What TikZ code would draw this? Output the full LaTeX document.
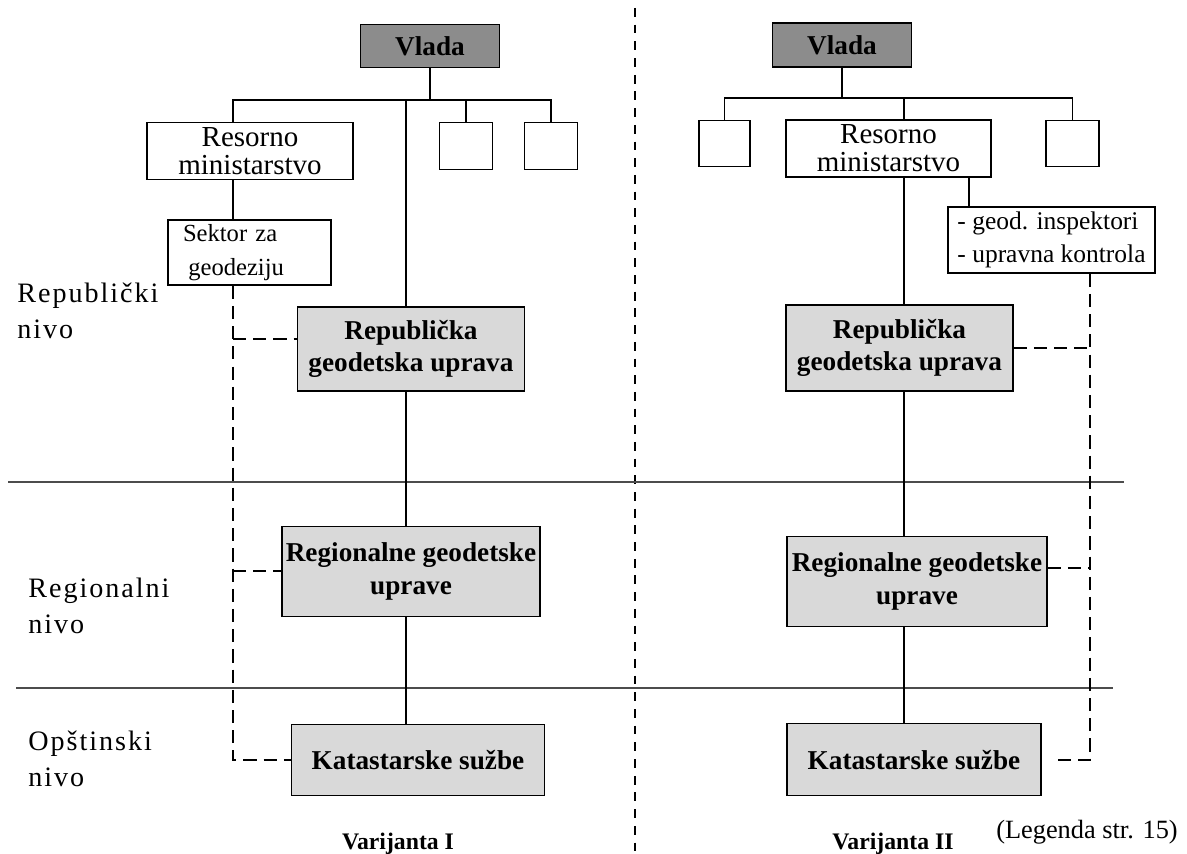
\documentclass[tikz,border=0pt]{standalone}
\usepackage{fontspec}
\setmainfont{Liberation Serif}
\usepackage{tikz}
\usetikzlibrary{positioning}
\tikzstyle{box}      = [rectangle, draw=black, line width=0.8pt, fill=white,
                        inner sep=0pt, align=center,
                        font=\fontsize{16.5}{16}\selectfont]
\tikzstyle{govbox}   = [box, fill=black!45, font=\fontsize{15.5}{17}\selectfont\bfseries]
\tikzstyle{geobox}   = [box, fill=black!15, font=\fontsize{15.5}{18.5}\selectfont\bfseries]
\tikzstyle{emptybox} = [box, minimum width=1.06cm, minimum height=0.93cm]
\tikzstyle{smallbox} = [box, align=left, font=\fontsize{14}{18}\selectfont]
\tikzstyle{link}     = [line width=0.8pt]
\tikzstyle{dashlink} = [line width=1pt, dash pattern=on 7.5pt off 4pt]
\tikzstyle{rule}     = [line width=1.6pt, draw=black!70]
\tikzstyle{divider}  = [line width=0.6pt, dash pattern=on 5pt off 4.5pt]
\tikzstyle{level}    = [align=left, inner sep=0pt, anchor=north west,
                        font=\fontsize{16}{20.5}\selectfont\addfontfeatures{LetterSpace=7}]
\tikzstyle{caption}  = [anchor=base, inner sep=0pt, font=\fontsize{13.5}{15}\selectfont\bfseries]

\begin{document}
\begin{tikzpicture}[x=0.02cm, y=-0.02cm]
  \useasboundingbox (0,0) rectangle (1187,854);

  % divider and level rules
  \draw[divider] (635,8) -- (635,854);
  \draw[rule] (8,482) -- (1124,482);
  \draw[rule] (16,688) -- (1113,688);

  \node[level] (repLvl) at (17,283) {Republički\\nivo};
  \node[level] (regLvl) at (28,578) {Regionalni\\nivo};
  \node[level] (opsLvl) at (28,731) {Opštinski\\nivo};

  % Varijanta I
  \coordinate (jL) at (430,100);
  \coordinate (tL) at (406,100);
  \coordinate (dL) at (233,100);
  \node[govbox, minimum width=2.78cm, minimum height=0.86cm] (vladaL) at (430,46) {Vlada};
  \node[box, minimum width=4.12cm, minimum height=1.14cm] (resL) at (250,151) {Resorno\\ministarstvo};
  \node[emptybox] (emptyL1) at (466,146) {};
  \node[emptybox] (emptyL2) at (551,146) {};
  \node[smallbox, text width=2.66cm, inner xsep=0.3cm, minimum height=1.3cm,
        font=\fontsize{14}{19}\selectfont] (sekL) at (249.5,252.5) {Sektor za\\\hspace*{3pt}geodeziju};
  \node[geobox, minimum width=4.54cm, minimum height=1.68cm] (repL) at (411,349)
        {Republička\\geodetska uprava};
  \node[geobox, below=2.68cm of repL, minimum width=5.16cm, minimum height=1.8cm] (regL)
        {Regionalne geodetske\\uprave};
  \node[geobox, below=2.14cm of regL, xshift=0.14cm, minimum width=5.06cm, minimum height=1.42cm] (katL)
        {Katastarske sužbe};

  \draw[link] (vladaL) -- (jL);
  \draw[link] (resL.north -| dL) |- (jL) -| (emptyL2.north);
  \draw[link] (emptyL1.north) -- (emptyL1.north |- jL);
  \draw[link] (tL) -- (tL |- repL.north);
  \draw[link] (resL.south -| dL) -- (sekL.north -| dL);
  \draw[link] (repL.south -| tL) -- (regL.north -| tL);
  \draw[link] (regL.south -| tL) -- (katL.north -| tL);
  \draw[dashlink] (sekL.south -| dL) |- (katL.west);
  \draw[dashlink] (repL.175 -| dL) -- (repL.175);
  \draw[dashlink] (regL.west -| dL) -- (regL.west);

  % Varijanta II
  \coordinate (jR) at (842,98);
  \coordinate (tR) at (904,98);
  \coordinate (mR) at (969,98);
  \coordinate (dR) at (1090,98);
  \node[govbox, minimum width=2.78cm, minimum height=0.88cm] (vladaR) at (842,45) {Vlada};
  \node[emptybox, minimum width=1.02cm] (emptyR1) at (724.5,143.5) {};
  \node[box, minimum width=4.1cm, minimum height=1.14cm] (resR) at (888.5,148.5) {Resorno\\ministarstvo};
  \node[emptybox] (emptyR2) at (1072.5,143.5) {};
  \node[smallbox, minimum width=4.14cm, minimum height=1.32cm,
        font=\fontsize{14.5}{19}\selectfont] (inspR) at (1051.5,240)
        {- geod. inspektori\\- upravna kontrola};
  \node[geobox, minimum width=4.54cm, minimum height=1.72cm] (repR) at (899.5,348)
        {Republička\\geodetska uprava};
  \node[geobox, below=2.88cm of repR, xshift=0.35cm, minimum width=5.2cm, minimum height=1.8cm] (regR)
        {Regionalne geodetske\\uprave};
  \node[geobox, below=1.92cm of regR, xshift=-0.06cm, minimum width=5.08cm, minimum height=1.44cm] (katR)
        {Katastarske sužbe};

  \draw[link] (vladaR) -- (jR);
  \draw[link] (emptyR1.north) |- (jR) -| (emptyR2.north);
  \draw[link] (tR) -- (tR |- resR.north);
  \draw[link] (resR.south -| tR) -- (repR.north -| tR);
  \draw[link] (repR.south -| tR) -- (regR.north -| tR);
  \draw[link] (regR.south -| tR) -- (katR.north -| tR);
  \draw[link] (resR.south -| mR) -- (inspR.north -| mR);
  \draw[dashlink] (inspR.south -| dR) |- ([xshift=8pt]katR.east);
  \draw[dashlink] (repR.east) -- (repR.east -| dR);
  \draw[dashlink] (regR.6) -- (regR.6 -| dR);

  % captions
  \node[caption] (varI) at (398,849) {Varijanta I};
  \node[caption] (varII) at (893,849) {Varijanta II};
  \node[caption, font=\fontsize{15}{18}\selectfont] (legend) at (1087,838) {(Legenda str. 15)};
\end{tikzpicture}
\end{document}
